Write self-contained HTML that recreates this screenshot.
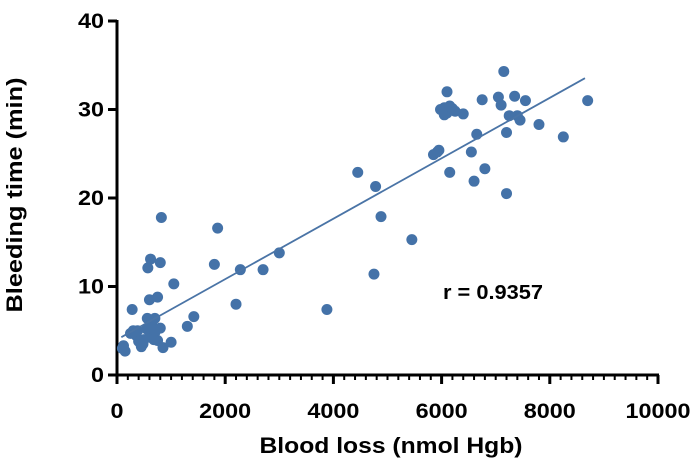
<!DOCTYPE html>
<html><head><meta charset="utf-8"><style>
body{margin:0;background:#fff;}
svg{display:block;font-family:"Liberation Sans",sans-serif;}
</style></head><body>
<svg id="chart" width="694" height="475" viewBox="0 0 694 475"></svg>
<script>
const xTicks=[0,2000,4000,6000,8000,10000];
const yTicks=[0,10,20,30,40];
const bloodLoss=[100,150,250,300,350,400,450,500,550,600,650,700,750,800,850,280,560,700,600,750,570,620,800,820,1050,1000,1300,1420,1800,1860,2200,2280,2700,3000,3880,4450,4750,4780,4880,5450,5850,5920,5950,5980,6050,6100,6050,6100,6150,6200,6250,6400,6150,6550,6600,6650,6750,6800,7050,7100,7150,7200,7200,7250,7350,7400,7450,7550,7800,8250,8700,120,380,480,680];
const bleedTime=[3.0,2.7,4.7,5.0,4.5,3.8,3.2,4.0,5.2,4.3,5.5,4.8,3.9,5.3,3.1,7.4,6.4,6.4,8.5,8.8,12.1,13.1,12.7,17.8,10.3,3.7,5.5,6.6,12.5,16.6,8.0,11.9,11.9,13.8,7.4,22.9,11.4,21.3,17.9,15.3,24.9,25.2,25.4,30.0,29.4,29.6,30.2,32.0,30.4,30.1,29.8,29.5,22.9,25.2,21.9,27.2,31.1,23.3,31.4,30.5,34.3,27.4,20.5,29.3,31.5,29.3,28.8,31.0,28.3,26.9,31.0,3.3,5.0,3.5,4.0];
const fitX=[80,8650];
const fitSlope=0.003415, fitIntercept=4.0;

const L=117,R=658,T=21,B=375;
const sx=v=>L+(v-0)/(10000)*(R-L);
const sy=v=>B-(v/40)*(B-T);
const svg=document.getElementById('chart');
const NS='http://www.w3.org/2000/svg';
function mk(tag,attrs,parent){const e=document.createElementNS(NS,tag);for(const k in attrs)e.setAttribute(k,attrs[k]);(parent||svg).appendChild(e);return e;}

const yAxis=mk('line',{x1:L,y1:T-1,x2:L,y2:B+1,stroke:'#000','stroke-width':3});


const xAxis=mk('line',{x1:L-1,y1:B,x2:R+1,y2:B,stroke:'#000','stroke-width':3});



for(let v=0;v<=10000;v+=200){
  const major=v%2000===0;
  const t=mk('line',{x1:sx(v),y1:B,x2:sx(v),y2:B+(major?9:5),stroke:'#000','stroke-width':major?3:2});
  
  
}
xTicks.forEach(v=>{
  const s=String(v);
  const t=mk('text',{x:sx(v),y:B+43,'text-anchor':'middle','font-size':21,'font-weight':'bold',fill:'#000',textLength:s.length*13,lengthAdjust:'spacingAndGlyphs'});
  t.textContent=s;
  
  
});
yTicks.forEach(v=>{
  const s=String(v);
  const tk=mk('line',{x1:L-9,y1:sy(v),x2:L,y2:sy(v),stroke:'#000','stroke-width':3});
  
  
  const t=mk('text',{x:L-13,y:sy(v)+7,'text-anchor':'end','font-size':21,'font-weight':'bold',fill:'#000',textLength:s.length*13,lengthAdjust:'spacingAndGlyphs'});
  t.textContent=s;
  
  
});

const xt=mk('text',{x:391,y:453,'text-anchor':'middle','font-size':22,'font-weight':'bold',fill:'#000',textLength:263,lengthAdjust:'spacingAndGlyphs'});
xt.textContent='Blood loss (nmol Hgb)';


const yt=mk('text',{x:0,y:0,'text-anchor':'middle','font-size':22,'font-weight':'bold',fill:'#000',textLength:235,lengthAdjust:'spacingAndGlyphs',transform:'translate(22,195) rotate(-90)'});
yt.textContent='Bleeding time (min)';



const g=mk('g',{});


bloodLoss.forEach((x,i)=>{
  const c=mk('circle',{cx:sx(x),cy:sy(bleedTime[i]),r:5.5,fill:'#4472a8'},g);
  
  
});

const ln=mk('line',{x1:sx(fitX[0]),y1:sy(fitIntercept+fitSlope*fitX[0]),x2:sx(fitX[1]),y2:sy(fitIntercept+fitSlope*fitX[1]),stroke:'#4a74a6','stroke-width':1.8});



const r=mk('text',{x:443,y:299,'font-size':20,'font-weight':'bold',fill:'#000',textLength:100,lengthAdjust:'spacingAndGlyphs'});
r.textContent='r = 0.9357';


</script>
</body></html>
